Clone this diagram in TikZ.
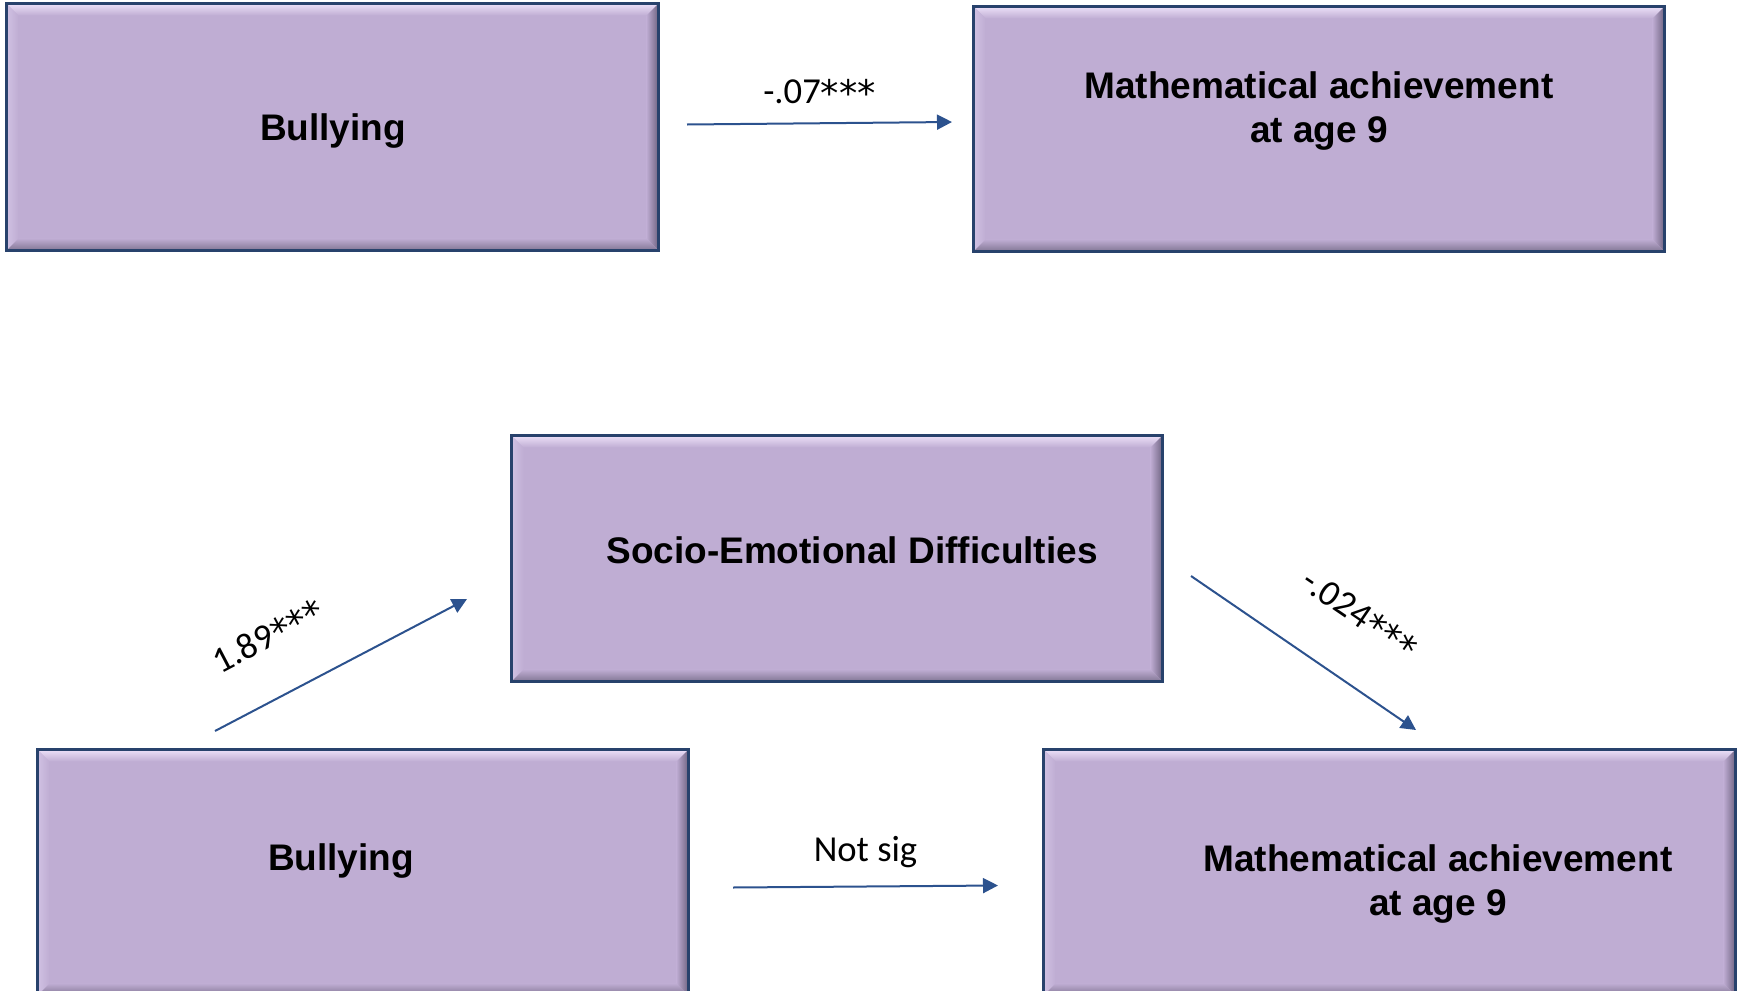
\documentclass[tikz,border=0pt]{standalone}
\usepackage{fontspec}
\setmainfont{Liberation Sans}
\newfontfamily\coeffont{Carlito}
\newfontfamily\starfont{DejaVu Sans}
\usetikzlibrary{arrows.meta,calc}

\definecolor{boxpurple}{RGB}{191,173,211}
\definecolor{bevtop}{RGB}{236,224,248}
\definecolor{bevleft}{RGB}{208,193,227}
\definecolor{bevright}{RGB}{112,101,130}
\definecolor{bevbottom}{RGB}{130,118,148}
\definecolor{edgeblue}{RGB}{40,66,108}
\definecolor{arrowblue}{RGB}{44,82,142}

\tikzset{
  varbox/.style={fill=boxpurple, inner sep=0pt},
  boxline/.style={draw=edgeblue, line width=1.4pt},
  boxtext/.style={font=\fontsize{18.5}{22}\selectfont\bfseries, align=center, inner sep=0pt},
  effect/.style={draw=arrowblue, line width=1pt, -{Triangle[length=7.5pt,width=7.5pt]}},
  coef/.style={font=\coeffont\fontsize{18.3}{22}\selectfont, inner sep=0pt}
}

\newcommand{\signif}{{\starfont\raisebox{-1.5pt}{***}}}
\newcommand{\bevw}{6pt}
\newcommand{\bevelbox}[1]{%
  \shade[top color=bevtop, bottom color=boxpurple] (#1.north west) -- (#1.north east) -- ([xshift=-\bevw,yshift=-\bevw]#1.north east) -- ([xshift=\bevw,yshift=-\bevw]#1.north west) -- cycle;
  \shade[left color=bevleft, right color=boxpurple] (#1.north west) -- ([xshift=\bevw,yshift=-\bevw]#1.north west) -- ([xshift=\bevw,yshift=\bevw]#1.south west) -- (#1.south west) -- cycle;
  \shade[left color=boxpurple, right color=bevright] (#1.north east) -- ([xshift=-\bevw,yshift=-\bevw]#1.north east) -- ([xshift=-\bevw,yshift=\bevw]#1.south east) -- (#1.south east) -- cycle;
  \shade[top color=boxpurple, bottom color=bevbottom] (#1.south west) -- ([xshift=\bevw,yshift=\bevw]#1.south west) -- ([xshift=-\bevw,yshift=\bevw]#1.south east) -- (#1.south east) -- cycle;
  \draw[boxline] (#1.north west) rectangle (#1.south east);
}

\begin{document}
\begin{tikzpicture}[x=0.5pt, y=-0.5pt]
  \useasboundingbox (0,0) rectangle (1742,991);
  \clip (0,0) rectangle (1742,991);

  % total effect
  \node[varbox, minimum width=325.5pt, minimum height=123pt] (bullyA) at (332.5,127) {};
  \node[varbox, minimum width=345pt, minimum height=122pt] (mathA) at (1319,129) {};
  % mediation model
  \node[varbox, minimum width=325pt, minimum height=122.5pt] (socio) at (837,558.5) {};
  \node[varbox, minimum width=325pt, minimum height=122.5pt] (bullyB) at (363,872.5) {};
  \node[varbox, minimum width=345.5pt, minimum height=122.5pt] (mathB) at (1389.5,872.5) {};

  \foreach \b in {bullyA,mathA,socio,bullyB,mathB} {\bevelbox{\b}}

  \node[boxtext] (bullyAtxt) at (333,131.5) {Bullying};
  \node[boxtext] (mathAtxt) at (1319,111.5) {Mathematical achievement\\at age 9};
  \node[boxtext] (sociotxt) at (852,550) {Socio-Emotional Difficulties};
  \node[boxtext] (bullyBtxt) at (341,861.5) {Bullying};
  \node[boxtext] (mathBtxt) at (1438,884) {Mathematical achievement\\at age 9};

  \coordinate (totS) at (687,124.5);
  \coordinate (totE) at (952,122);
  \coordinate (aS) at (215,731);
  \coordinate (aE) at (467,599);
  \coordinate (bS) at (1191,576);
  \coordinate (bE) at (1416,730);
  \coordinate (cS) at (733,887.5);
  \coordinate (cE) at (998,885.5);

  \draw[effect] (totS) -- node[coef, above=8pt] (totcoef) {-.07\signif} (totE);
  \draw[effect] (aS) -- node[coef, sloped, pos=0.32, above=22pt] (acoef) {1.89\signif} (aE);
  \draw[effect] (bS) -- node[coef, sloped, pos=0.59, above=24pt] (bcoef) {-.024\signif} (bE);
  \draw[effect] (cS) -- node[coef, above=9pt] (ccoef) {Not sig} (cE);
\end{tikzpicture}
\end{document}
